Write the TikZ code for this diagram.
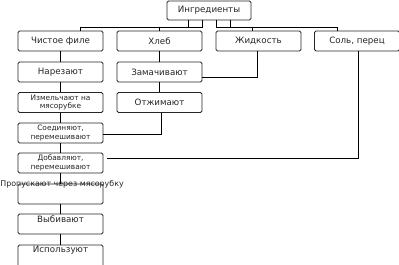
\documentclass[tikz,border=0pt]{standalone}
\usepackage{fontspec}
\setmainfont{DejaVu Sans}
\usetikzlibrary{calc}
\begin{document}
\begin{tikzpicture}[x=1pt,y=-1pt,
  box/.style={draw=black!85,line width=0.75pt,rounded corners=1.5pt,fill=white,
    minimum width=85pt,minimum height=20pt,inner sep=0pt,font=\fontsize{8.7}{9}\selectfont,text=black!85},
  twoline/.style={font=\fontsize{7.4}{8.4}\selectfont,align=center},
  lbl/.style={inner sep=0pt,font=\fontsize{8.7}{9}\selectfont,text=black!85},
  conn/.style={draw=black,line width=0.85pt}]
\useasboundingbox (0,0) rectangle (399,265);
% top
\node[box,minimum width=84pt,minimum height=19pt] (ing) at (209,10.5) {Ингредиенты};
\node[box] (cf)  at (60.5,41) {Чистое филе};
\node[box] (hl)  at (159.5,41) {Хлеб};
\node[box] (zh)  at (258.5,41) {Жидкость};
\node[box] (sol) at (357,41) {Соль, перец};
% left column
\node[box] (nar) at (60.5,72) {Нарезают};
\node[box,twoline] (izm) at (60.5,102.5) {Измельчают на\\мясорубке};
\node[box,twoline] (soe) at (60.5,133) {Соединяют,\\перемешивают};
\node[box,twoline] (dob) at (60.5,163) {Добавляют,\\перемешивают};
\node[box] (pro) at (60.5,194) {};
\node[box] (vyb) at (60.5,224) {};
\node[box,minimum height=26pt] (isp) at (60.5,258) {};
% bread column
\node[box] (zam) at (159.5,72) {Замачивают};
\node[box] (otj) at (159.5,102.5) {Отжимают};
% texts of the lower boxes
\node[lbl,font=\fontsize{7.9}{8}\selectfont] (tpro) at (62,184) {Пропускают через мясорубку};
\node[lbl] (tvyb) at (60.5,219) {Выбивают};
\node[lbl] (tisp) at (60.5,250) {Используют};
% connectors from ingredients
\draw[conn] ([xshift=-21pt]ing.south) -- ++(0,7) -| ([xshift=19.5pt]cf.north);
\draw[conn] ([xshift=-7pt]ing.south) -- ++(0,7) -| (hl.north);
\draw[conn] ([xshift=7pt]ing.south) -- ++(0,7) -| ([xshift=-6.5pt]zh.north);
\draw[conn] ([xshift=21pt]ing.south) -- ++(0,7) -| ([xshift=-20pt]sol.north);
% left column chain
\draw[conn] (cf) -- (nar);
\draw[conn] (nar) -- (izm);
\draw[conn] (izm) -- (soe);
\draw[conn] (soe) -- (dob);
\draw[conn] (dob) -- (pro);
\draw[conn] (pro) -- (vyb);
\draw[conn] (vyb) -- (isp);
% bread chain
\draw[conn] (hl) -- (zam);
\draw[conn] (zam) -- (otj);
\draw[conn] ([xshift=1.5pt]otj.south) |- ([yshift=-1pt]soe.east);
\draw[conn] ([xshift=-1.5pt]zh.south) |- ([yshift=-5pt]zam.east);
\draw[conn] ([xshift=1pt]sol.south) |- ([xshift=4pt,yshift=5pt]dob.east);
\end{tikzpicture}
\end{document}
